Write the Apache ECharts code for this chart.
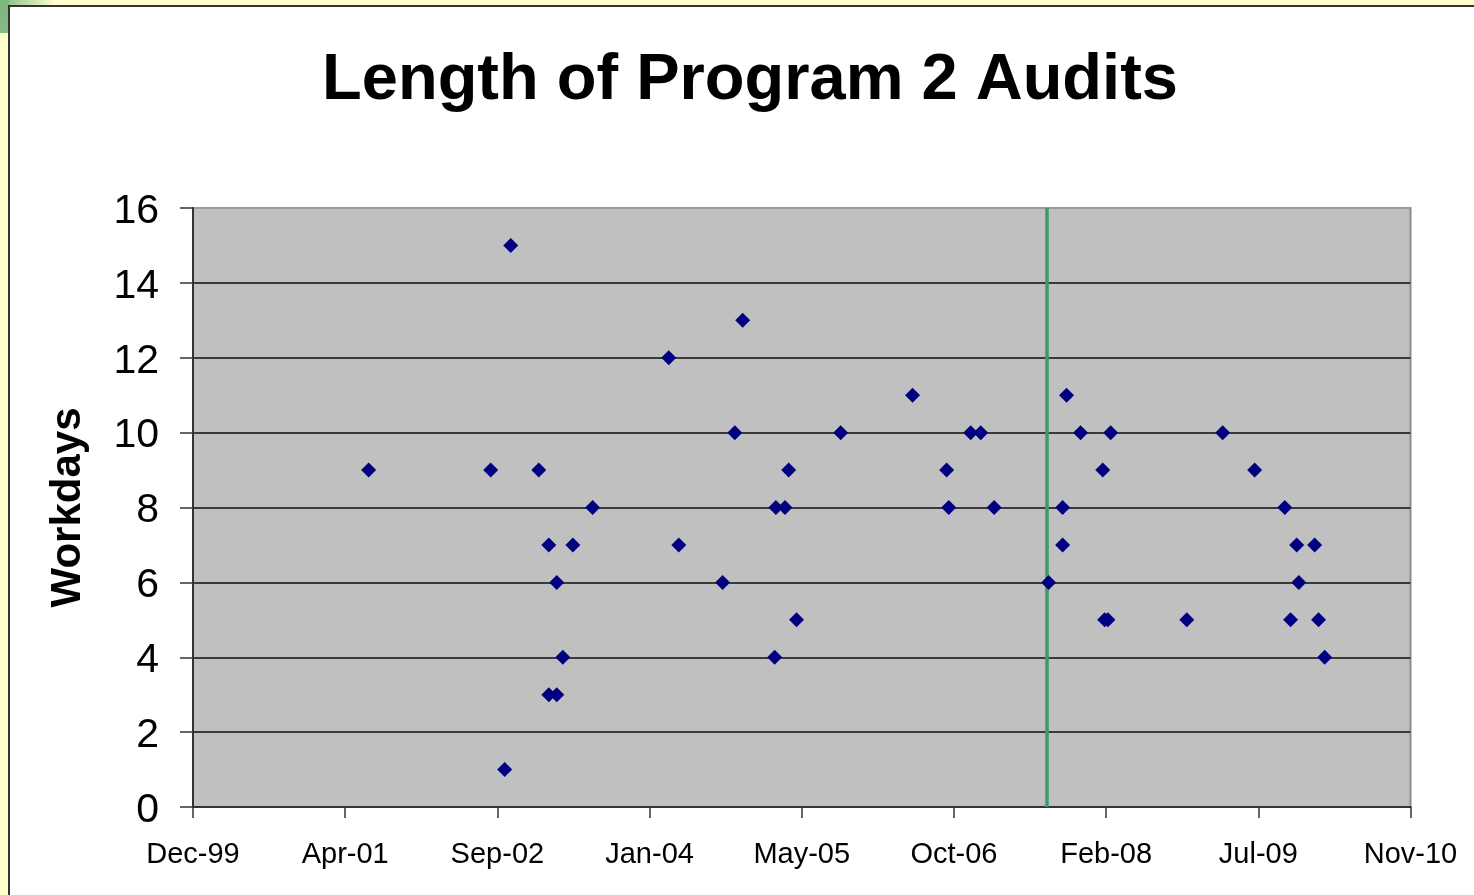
<!DOCTYPE html>
<html>
<head>
<meta charset="utf-8">
<script src="https://cdn.jsdelivr.net/npm/echarts@6/dist/echarts.min.js"></script>
<style>
  html, body { margin: 0; padding: 0; width: 1474px; height: 895px; overflow: hidden; background: #ffffcc; }
  #topstrip { position: absolute; left: 0; top: 0; width: 1474px; height: 6px; background: linear-gradient(90deg, #7db57f 0px, #b9d9a6 25px, #ffffcc 55px); }
  #leftstrip { position: absolute; left: 0; top: 0; width: 9px; height: 33px; background: linear-gradient(180deg, #7db57f, #86bb86); }
  #panel { position: absolute; left: 8px; top: 5px; width: 1466px; height: 890px; background: #ffffff; border-left: 2px solid #333; border-top: 2px solid #333; box-sizing: border-box; }
  #chart { position: absolute; left: 0; top: 0; width: 1474px; height: 895px; }
</style>
</head>
<body>
<div id="topstrip"></div>
<div id="leftstrip"></div>
<div id="panel"></div>
<div id="chart"></div>
<script>
// ---- data ----
const auditDates = [
  '2001-07-05','2002-08-10','2002-09-25','2002-10-15','2003-01-15','2003-02-17',
  '2003-02-17','2003-03-15','2003-03-15','2003-04-04','2003-05-07','2003-07-11',
  '2004-03-17','2004-04-19','2004-09-10','2004-10-20','2004-11-15','2005-02-28',
  '2005-03-04','2005-04-03','2005-04-15','2005-05-11','2005-10-03','2006-05-27',
  '2006-09-16','2006-09-23','2006-12-04','2007-01-06','2007-02-19','2007-08-17',
  '2007-10-02','2007-10-02','2007-10-15','2007-11-30','2008-02-11','2008-02-17',
  '2008-02-28','2008-03-08','2008-11-13','2009-03-11','2009-06-24','2009-10-01',
  '2009-10-20','2009-11-09','2009-11-16','2010-01-07','2010-01-20','2010-02-09'
];
const auditWorkdays = [
  9, 9, 1, 15, 9, 7,
  3, 3, 6, 4, 7, 8,
  12, 7, 6, 10, 13, 4,
  8, 8, 9, 5, 10, 11,
  9, 8, 10, 10, 8, 6,
  8, 7, 11, 10, 9, 5,
  5, 10, 5, 10, 9, 8,
  5, 7, 6, 7, 5, 4
];
const changeDate = '2007-08-11';
const xTickLabels = ['Dec-99','Apr-01','Sep-02','Jan-04','May-05','Oct-06','Feb-08','Jul-09','Nov-10'];
const yTickLabels = ['0','2','4','6','8','10','12','14','16'];
const X_MIN = 36500, X_STEP = 500, X_MAX = 40500;

// Excel-style serial day numbers
function toSerial(s) {
  const p = s.split('-').map(Number);
  return Math.round((Date.UTC(p[0], p[1] - 1, p[2]) - Date.UTC(1899, 11, 30)) / 86400000);
}
const points = auditDates.map((d, i) => [toSerial(d), auditWorkdays[i]]);

const chart = echarts.init(document.getElementById('chart'), null, { renderer: 'canvas' });
const gridColors = ['#3a3a3a','#3a3a3a','#3a3a3a','#3a3a3a','#3a3a3a','#3a3a3a','#3a3a3a','#3a3a3a','#9a9a9a'];
chart.setOption({
  backgroundColor: 'transparent',
  animation: false,
  title: {
    text: 'Length of Program 2 Audits',
    left: 745, top: 44, textAlign: 'center',
    textStyle: { fontFamily: 'Liberation Sans, Arial, sans-serif', fontWeight: 'bold', fontSize: 65, color: '#000' }
  },
  grid: {
    left: 193, right: 63.5, top: 208, bottom: 88,
    show: true, backgroundColor: '#c0c0c0', borderColor: '#8c8c8c', borderWidth: 2
  },
  xAxis: {
    type: 'value', min: X_MIN, max: X_MAX, interval: X_STEP,
    axisLine: { show: true, onZero: false, lineStyle: { color: '#333', width: 2 } },
    axisTick: { show: true, inside: false, length: 11, lineStyle: { color: '#333', width: 1.5 } },
    splitLine: { show: false },
    axisLabel: {
      margin: 33, fontSize: 29, color: '#000', fontFamily: 'Liberation Sans, Arial, sans-serif',
      formatter: v => xTickLabels[Math.round((v - X_MIN) / X_STEP)] || ''
    }
  },
  yAxis: {
    type: 'value', min: 0, max: 16, interval: 2,
    name: 'Workdays', nameLocation: 'middle', nameGap: 104, nameRotate: 90,
    nameTextStyle: { fontFamily: 'Liberation Sans, Arial, sans-serif', fontWeight: 'bold', fontSize: 42, color: '#000' },
    axisLine: { show: true, lineStyle: { color: '#333', width: 2 } },
    axisTick: { show: true, inside: false, length: 13, lineStyle: { color: '#333', width: 1.5 } },
    splitLine: { show: true, lineStyle: { color: gridColors, width: 2 } },
    axisLabel: {
      margin: 34, color: '#000',
      formatter: v => '{t|' + yTickLabels[Math.round(v / 2)] + '}',
      rich: {
        t: { fontSize: 41, color: '#000', fontFamily: 'Liberation Sans, Arial, sans-serif', padding: [7, 0, 0, 0] }
      }
    }
  },
  series: [{
    type: 'scatter',
    data: points,
    symbol: 'diamond',
    symbolSize: 15,
    itemStyle: { color: '#000080', opacity: 1 },
    z: 5,
    markLine: {
      silent: true, symbol: ['none', 'none'],
      label: { show: false },
      lineStyle: { color: '#3a9c68', width: 3.5, type: 'solid' },
      data: [{ xAxis: toSerial(changeDate) }]
    }
  }]
});
</script>
</body>
</html>
